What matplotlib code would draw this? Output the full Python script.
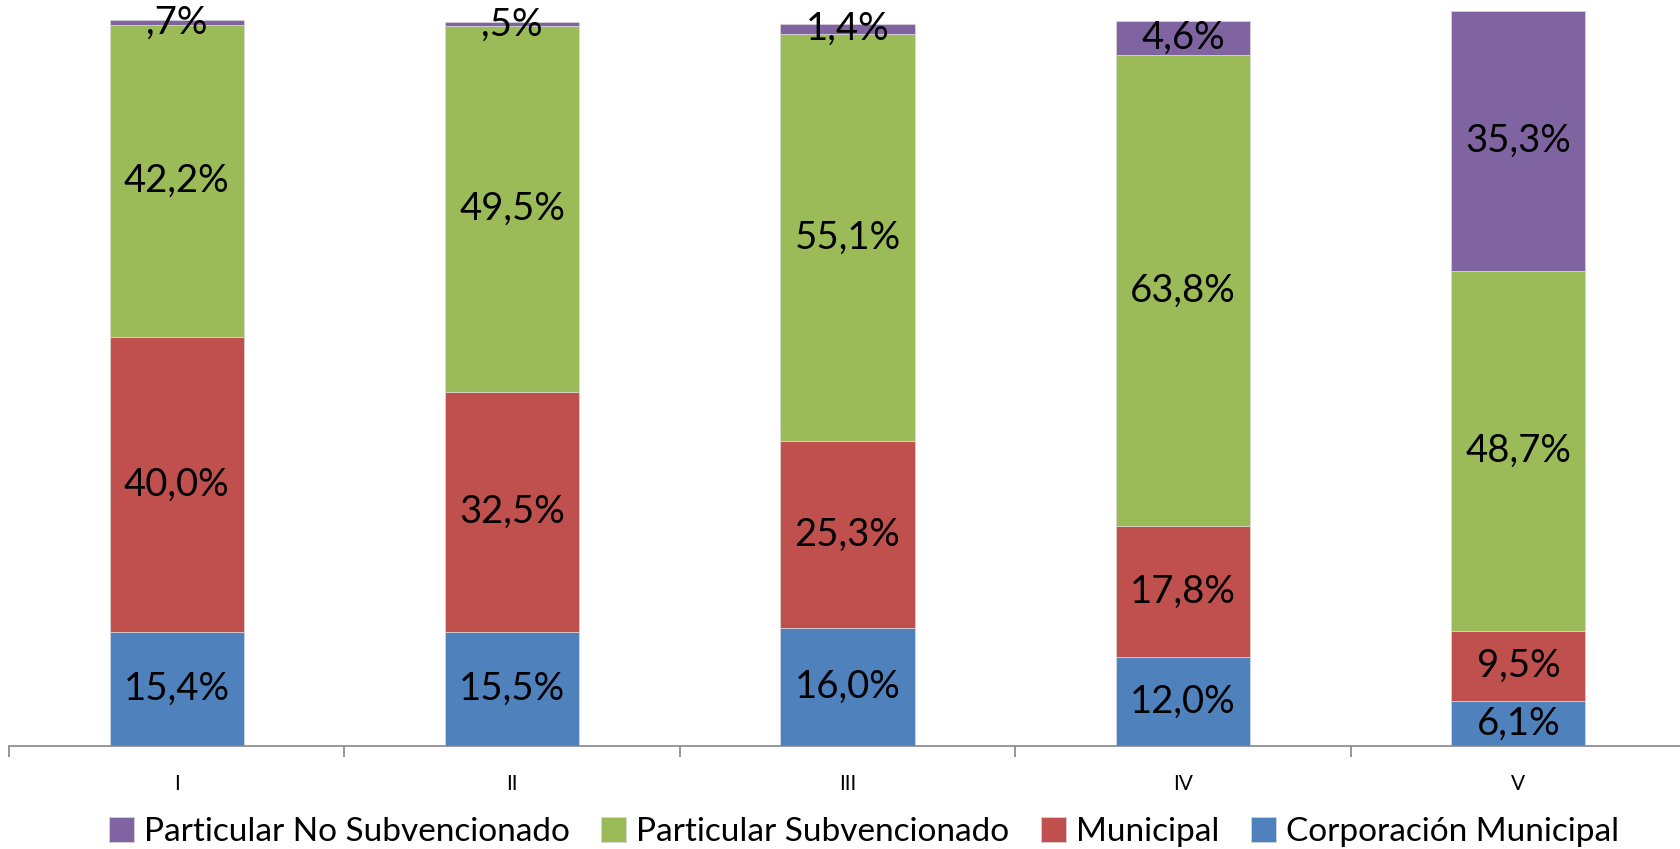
import matplotlib
matplotlib.use("Agg")
import matplotlib.pyplot as plt
import numpy as np

categories = ["I", "II", "III", "IV", "V"]
series_names = ["Corporación Municipal", "Municipal", "Particular Subvencionado", "Particular No Subvencionado"]
corporacion = [15.4, 15.5, 16.0, 12.0, 6.1]
municipal = [40.0, 32.5, 25.3, 17.8, 9.5]
part_subv = [42.2, 49.5, 55.1, 63.8, 48.7]
part_no_subv = [0.7, 0.5, 1.4, 4.6, 35.3]
colors = ["#4F81BD", "#C0504D", "#9BBB59", "#8064A2"]

def fmt(v):
    s = f"{v:.1f}".replace(".", ",")
    if s.startswith("0,"):
        s = s[1:]
    return s + "%"

plt.rcParams['font.family'] = ['Lato', 'DejaVu Sans']
fig = plt.figure(figsize=(16.81, 8.49), dpi=100)
ax = fig.add_axes([0.0054, 0.1213, 0.9976, 0.8697])

x = np.arange(len(categories))
data = [corporacion, municipal, part_subv, part_no_subv]
bottom = np.zeros(len(categories))
handles = []
for vals, name, col in zip(data, series_names, colors):
    vals = np.array(vals)
    b = ax.bar(x, vals, 0.4, bottom=bottom, color=col, edgecolor="#d9d9d9", linewidth=0.5, label=name)
    handles.append(b)
    for xi, v, bt in zip(x, vals, bottom):
        ax.text(xi, bt + v / 2, fmt(v), ha="center", va="center", fontsize=27.5, color="black")
    bottom += vals

ax.set_xlim(-0.5, len(categories) - 0.5)
ax.set_ylim(0, 100)
ax.set_yticks([])
for s in ["top", "right", "left"]:
    ax.spines[s].set_visible(False)
ax.spines["bottom"].set_color("#868686")
ax.spines["bottom"].set_linewidth(1.2)
ax.set_xticks(x)
ax.set_xticklabels(categories, fontsize=15)
ax.tick_params(axis="x", which="major", length=0, pad=20)
ax.set_xticks(np.arange(len(categories) + 1) - 0.5, minor=True)
ax.tick_params(axis="x", which="minor", length=8, color="#868686", width=1.2)

leg = fig.legend(handles[::-1], series_names[::-1], loc="center", bbox_to_anchor=(0.514, 0.02),
                 ncol=4, frameon=False, fontsize=24, handlelength=0.75, handleheight=0.75,
                 handletextpad=0.3, columnspacing=0.95)

fig.savefig("out.png", dpi=100)
